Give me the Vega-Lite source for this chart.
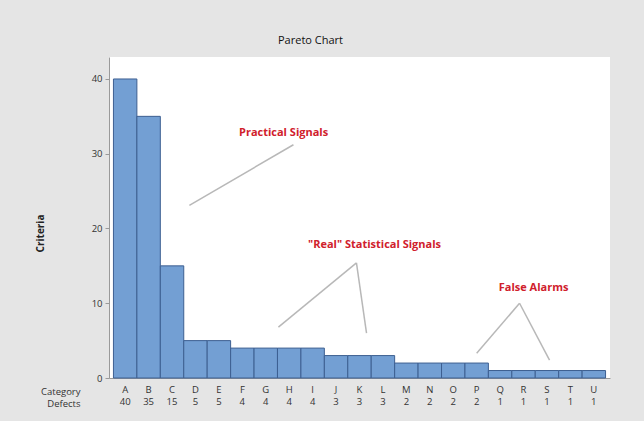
{
  "$schema": "https://vega.github.io/schema/vega-lite/v6.json",
  "autosize": {"type": "none"},
  "width": 501,
  "height": 321,
  "padding": {"left": 109, "top": 57, "right": 34, "bottom": 43},
  "background": "#e5e5e5",
  "config": {
    "font": "Open Sans",
    "view": {"stroke": null, "fill": "white"}
  },
  "title": {
    "text": "Pareto Chart",
    "fontSize": 11,
    "fontWeight": "normal",
    "color": "#111111",
    "anchor": "middle",
    "dx": -49,
    "offset": 11
  },
  "datasets": {
    "bars": [
      {"Category": "A", "Defects": 40},
      {"Category": "B", "Defects": 35},
      {"Category": "C", "Defects": 15},
      {"Category": "D", "Defects": 5},
      {"Category": "E", "Defects": 5},
      {"Category": "F", "Defects": 4},
      {"Category": "G", "Defects": 4},
      {"Category": "H", "Defects": 4},
      {"Category": "I", "Defects": 4},
      {"Category": "J", "Defects": 3},
      {"Category": "K", "Defects": 3},
      {"Category": "L", "Defects": 3},
      {"Category": "M", "Defects": 2},
      {"Category": "N", "Defects": 2},
      {"Category": "O", "Defects": 2},
      {"Category": "P", "Defects": 2},
      {"Category": "Q", "Defects": 1},
      {"Category": "R", "Defects": 1},
      {"Category": "S", "Defects": 1},
      {"Category": "T", "Defects": 1},
      {"Category": "U", "Defects": 1}
    ],
    "lines": [
      {"group": "practical", "x1": 3.24, "y1": 23.1, "x2": 7.68, "y2": 31.2},
      {"group": "real", "x1": 10.37, "y1": 15.4, "x2": 7.04, "y2": 6.8},
      {"group": "real", "x1": 10.37, "y1": 15.4, "x2": 10.8, "y2": 6.0},
      {"group": "false", "x1": 17.33, "y1": 10.0, "x2": 15.5, "y2": 3.3},
      {"group": "false", "x1": 17.33, "y1": 10.0, "x2": 18.61, "y2": 2.4}
    ],
    "labels": [
      {"label": "Practical Signals", "x": 7.26, "y": 32.8},
      {"label": "\"Real\" Statistical Signals", "x": 11.14, "y": 17.8},
      {"label": "False Alarms", "x": 17.93, "y": 12.0}
    ]
  },
  "layer": [
    {
      "data": {"name": "bars"},
      "transform": [
        {"calculate": "datum.Category + '|' + datum.Defects", "as": "key"}
      ],
      "mark": {"type": "bar", "fill": "#739fd3", "stroke": "#3d5f91", "strokeWidth": 1},
      "encoding": {
        "x": {
          "field": "key",
          "type": "nominal",
          "sort": null,
          "scale": {"paddingInner": 0, "paddingOuter": 0.19},
          "axis": {
            "labelExpr": "split(datum.value, '|')",
            "labelAngle": 0,
            "labelFontSize": 9.5,
            "labelColor": "#333333",
            "labelLineHeight": 12,
            "labelPadding": 6,
            "labelBaseline": "top",
            "ticks": false,
            "domainColor": "#9a9a9a",
            "title": ["Category", "Defects"],
            "titleFontSize": 9.5,
            "titleFontWeight": "normal",
            "titleColor": "#333333",
            "titleLineHeight": 12,
            "titleAlign": "right",
            "titleAnchor": "start",
            "titleBaseline": "top",
            "titleX": -29,
            "titleY": 8
          }
        },
        "y": {
          "field": "Defects",
          "type": "quantitative",
          "scale": {"domain": [0, 42.94], "nice": false},
          "axis": {
            "values": [0, 10, 20, 30, 40],
            "grid": false,
            "tickSize": 4,
            "tickColor": "#9a9a9a",
            "domainColor": "#9a9a9a",
            "labelFontSize": 9.5,
            "labelColor": "#333333",
            "labelPadding": 3,
            "title": "Criteria",
            "titleFontSize": 10,
            "titleFontWeight": "bold",
            "titleColor": "#222222",
            "titleX": -69,
            "titleY": 176,
            "titleAngle": 270,
            "titleAlign": "center",
            "titleBaseline": "middle"
          }
        }
      }
    },
    {
      "data": {"name": "lines"},
      "mark": {"type": "rule", "color": "#b8b8b8", "strokeWidth": 1.5},
      "encoding": {
        "x": {"field": "x1", "type": "quantitative", "scale": {"domain": [-0.19, 21.19], "nice": false, "zero": false}, "axis": null},
        "x2": {"field": "x2"},
        "y": {"field": "y1", "type": "quantitative"},
        "y2": {"field": "y2"}
      }
    },
    {
      "data": {"name": "labels"},
      "mark": {"type": "text", "color": "#d0202c", "fontWeight": "bold", "fontSize": 11, "align": "center", "baseline": "middle"},
      "encoding": {
        "x": {"field": "x", "type": "quantitative", "scale": {"domain": [-0.19, 21.19], "nice": false, "zero": false}, "axis": null},
        "y": {"field": "y", "type": "quantitative"},
        "text": {"field": "label"}
      }
    }
  ],
  "resolve": {"scale": {"x": "independent"}, "axis": {"x": "independent"}}
}
